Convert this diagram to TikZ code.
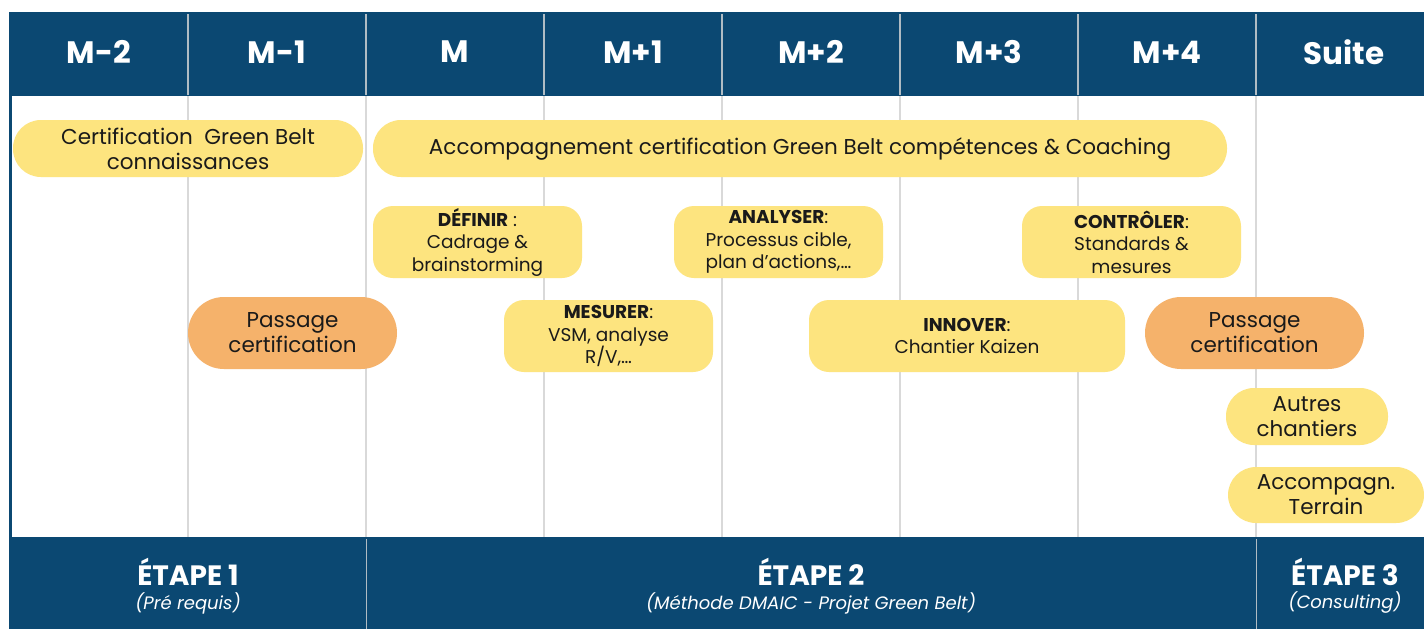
\documentclass[tikz,border=0pt]{standalone}
\usepackage{fontspec}
\setmainfont{Poppins}
\definecolor{navy}{HTML}{0B4872}
\definecolor{butter}{HTML}{FDE47F}
\definecolor{peach}{HTML}{F5B26B}
\definecolor{rule}{HTML}{D9D9D9}
\definecolor{ink}{HTML}{1A1A1A}
\tikzset{
    pill/.style={fill=butter, text=ink, inner sep=0pt, align=center,
        font=\fontsize{21.5}{25}\selectfont},
    passpill/.style={pill, fill=peach, font=\fontsize{21.5}{25}\selectfont},
    phasebox/.style={fill=butter, text=ink, inner sep=0pt, align=center,
        rounded corners=20pt, minimum height=72pt,
        font=\fontsize{18.5}{22.5}\selectfont},
    monthlabel/.style={text=white, font=\fontsize{31}{36}\selectfont\bfseries},
    steplabel/.style={text=white, inner sep=0pt, font=\fontsize{28}{30}\selectfont\bfseries},
    stepnote/.style={text=white, inner sep=0pt, font=\fontsize{18}{20}\selectfont\itshape}
}
\begin{document}
\begin{tikzpicture}[x=1pt, y=-1pt]
        \useasboundingbox[fill=white] (0,0) rectangle (1424,629);
        \fill[navy] (9,12) rectangle (1424,96);
        \fill[navy] (9,537) rectangle (1424,629);
        \fill[navy] (9,96) rectangle (11.5,537);
        \foreach\x in {188,366,...,1256}
        {%
            \draw[rule, line width=1.5pt] (\x,96) -- (\x,537);
            \draw[rule!80!navy, line width=1.2pt] (\x,14) -- (\x,95);
        }
        \foreach\x in {366,1256}
            \draw[rule!80!navy, line width=1pt] (\x,539) -- (\x,629);
        \foreach[count=\i]\m in {M-2,M-1,M,M+1,M+2,M+3,M+4}
            \node[monthlabel] (month\i) at (178*\i-79,52) {\m};
        \node[monthlabel] (month8) at (1344,52) {Suite};
        \node[steplabel] (step1) at (188,572) {ÉTAPE 1};
        \node[stepnote] (note1) at (188,603) {(Pré requis)};
        \node[steplabel] (step2) at (811,572) {ÉTAPE 2};
        \node[stepnote] (note2) at (811,603) {(Méthode DMAIC - Projet Green Belt)};
        \node[steplabel] (step3) at (1345,572) {ÉTAPE 3};
        \node[stepnote] (note3) at (1345,603) {(Consulting)};
        \node[pill, rounded corners=28pt, minimum width=350pt, minimum height=57pt]
            (certif) at (188,148.5) {Certification~ Green Belt\\connaissances};
        \node[pill, rounded corners=28pt, minimum width=854pt, minimum height=57pt]
            (accomp) at (800,148.5) {Accompagnement certification Green Belt compétences \& Coaching};
        \node[phasebox, minimum width=209pt] (definir) at (477.5,242)
            {\textbf{DÉFINIR} :\\Cadrage \&\\brainstorming};
        \node[phasebox, minimum width=209pt] (analyser) at (778.5,242)
            {\textbf{ANALYSER}:\\Processus cible,\\plan d’actions,…};
        \node[phasebox, minimum width=219pt] (controler) at (1131.5,242)
            {\textbf{CONTRÔLER}:\\Standards \&\\mesures};
        \node[phasebox, minimum width=209pt] (mesurer) at (608.5,336)
            {\textbf{MESURER}:\\VSM, analyse\\R/V,…};
        \node[phasebox, minimum width=316pt] (innover) at (967,336)
            {\textbf{INNOVER}:\\Chantier Kaizen};
        \node[passpill, rounded corners=36pt, minimum width=209pt, minimum height=72pt]
            (passage1) at (292.5,333) {Passage\\certification};
        \node[passpill, rounded corners=36pt, minimum width=219pt, minimum height=72pt]
            (passage2) at (1254.5,333) {Passage\\certification};
        \node[pill, rounded corners=28pt, minimum width=162pt, minimum height=57pt]
            (autres) at (1307,416.5) {Autres\\chantiers};
        \node[pill, rounded corners=28pt, minimum width=196pt, minimum height=56pt]
            (terrain) at (1326,495) {Accompagn.\\Terrain};
\end{tikzpicture}
\end{document}
